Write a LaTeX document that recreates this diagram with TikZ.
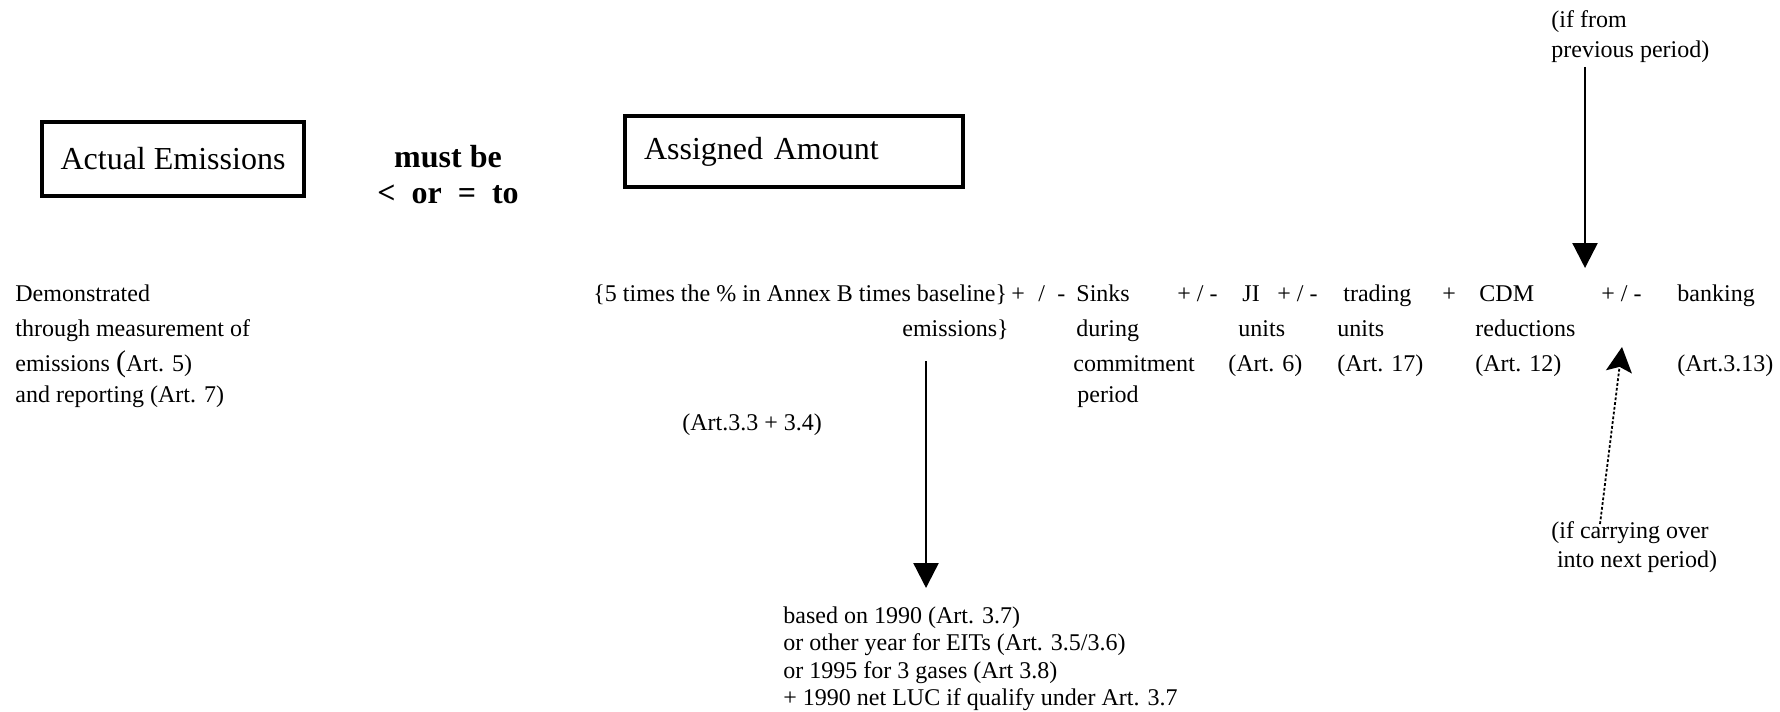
\documentclass[tikz,border=0pt]{standalone}
\usepackage{fontspec}
\setmainfont{Liberation Serif}
\usepackage{tikz}
\usetikzlibrary{arrows.meta}
\tikzset{
  txt/.style={inner sep=0pt, anchor=base west, align=left, font=\fontsize{12}{17.5}\selectfont},
  bigbox/.style={draw, line width=2pt, font=\fontsize{16}{19}\selectfont},
  boldtxt/.style={inner sep=0pt, anchor=base, font=\fontsize{16}{19}\selectfont\bfseries},
  downarrow/.style={line width=1.2pt, -{Triangle[width=12.5pt,length=12.5pt]}},
  carryarrow/.style={line width=0.9pt, dash pattern=on 1.4pt off 1pt, -{Stealth[width=13pt,length=12.5pt,inset=2.5pt]}}
}
\begin{document}
\begin{tikzpicture}[x=0.5pt,y=-0.5pt]
\pgfmathsetmacro{\rowY}{301} % baseline of the formula line
\pgfmathsetmacro{\rowC}{371} % third line (Art. ..)
\pgfmathsetmacro{\rowD}{402} % fourth line
\useasboundingbox (0,0) rectangle (1780,711);

% the comparison
\node[bigbox, minimum width=131pt, minimum height=37pt] (actual) at (173,159) {Actual Emissions};
\node[boldtxt] (mustbe) at (448,168) {must be};
\node[boldtxt] (lessor) at (448,204) {<\ \ or\ \ =\ \ to};
\node[bigbox, anchor=west, text width=150pt, align=left, inner xsep=9.5pt, minimum height=35.5pt] (assigned) at (623,152) {Assigned Amount};

% formula (multi-line nodes sit on their last line)
\node[txt] (demo) at (15,\rowD) {Demonstrated\\ through measurement of\\ emissions {\fontsize{15}{17.5}\selectfont(}Art. 5)\\[-2pt] and reporting (Art. 7)};
\node[txt] (annex) at (593,\rowY) {\{5 times the \% in Annex B times baseline\}};
\node[txt] (pm0) at (1011,\rowY) {+\hspace{6.7pt}/\hspace{6.2pt}-};
\node[txt] (emis) at (902,\rowY+35) {emissions\}};
\node[txt] (artannex) at (682,430) {(Art.3.3 + 3.4)};
\node[txt] (sinks) at (1073,\rowD) {\hspace*{1.5pt}Sinks\\ \hspace*{1.5pt}during\\ commitment\\[-2pt] \hspace*{2pt}period};
\node[txt] (pm1) at (1177,\rowY) {+ / -};
\node[txt] (ji) at (1228,\rowC) {\hspace*{7pt}JI\\ \hspace*{5pt}units\\ (Art. 6)};
\node[txt] (pm2) at (1277,\rowY) {+ / -};
\node[txt] (trading) at (1337,\rowC) {\hspace*{3pt}trading\\ units\\ (Art. 17)};
\node[txt] (plus) at (1442,\rowY) {+};
\node[txt] (cdm) at (1475,\rowC) {\hspace*{2pt}CDM\\ reductions\\ (Art. 12)};
\node[txt] (pm3) at (1601,\rowY) {+ / -};
\node[txt] (banking) at (1677,\rowC) {banking\\[17.5pt] (Art.3.13)};

% notes
\node[txt, font=\fontsize{12}{13.75}\selectfont] (basis) at (783,705.5) {based on 1990 (Art. 3.7)\\ or other year for EITs (Art. 3.5/3.6)\\ or 1995 for 3 gases (Art 3.8)\\ + 1990 net LUC if qualify under Art. 3.7};
\node[txt, font=\fontsize{12}{15}\selectfont] (prev) at (1551,58) {(if from\\ previous period)};
\node[txt, align=center, anchor=base, font=\fontsize{12}{14.2}\selectfont] (carry) at (1630,567) {(if carrying over\\ \hspace*{7pt}into next period)};

\coordinate (prevfoot) at (1585,67);
\coordinate (prevtip) at (1585,268);
\coordinate (emisfoot) at (926,361);
\coordinate (basetop) at (926,588);
\coordinate (carrytail) at (1600,524);
\coordinate (carrytip) at (1622,347);

\draw[downarrow] (prevfoot) -- (prevtip);
\draw[downarrow] (emisfoot) -- (basetop);
\draw[carryarrow] (carrytail) -- (carrytip); % dotted, points back up
\end{tikzpicture}
\end{document}
